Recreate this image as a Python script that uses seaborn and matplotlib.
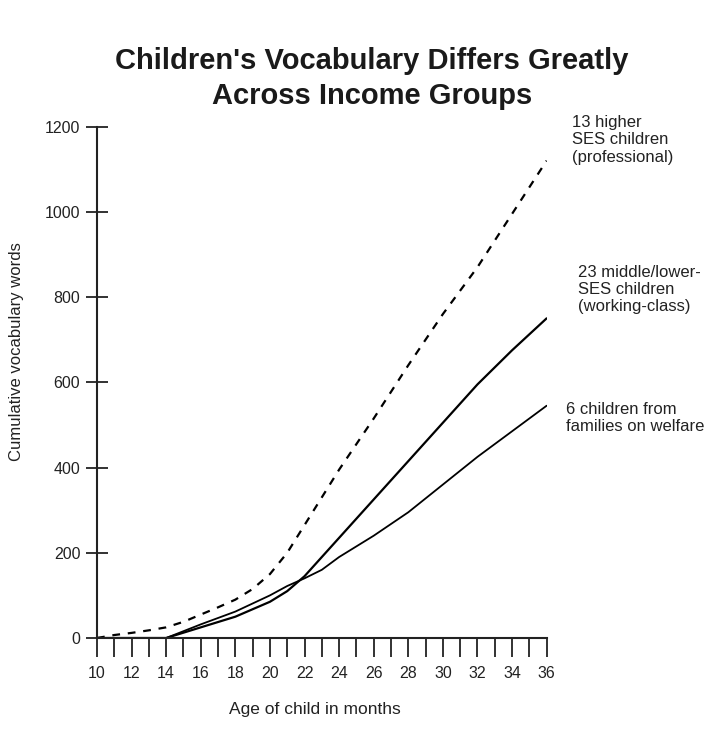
import pandas as pd
import seaborn as sns
import matplotlib.pyplot as plt

# Values (age in months -> cumulative words)
prof_age = [10, 11, 12, 13, 14, 15, 16, 17, 18, 19, 20, 21, 22, 24, 26, 28, 30, 32, 34, 36]
prof_words = [0, 7, 12, 18, 25, 38, 55, 72, 90, 115, 150, 200, 265, 395, 515, 640, 760, 870, 995, 1120]

work_age = [10, 14, 16, 18, 20, 21, 22, 24, 26, 28, 30, 32, 34, 36]
work_words = [0, 0, 25, 50, 85, 110, 145, 235, 325, 415, 505, 595, 675, 750]

welf_age = [10, 14, 16, 18, 20, 21, 22, 23, 24, 26, 28, 30, 32, 34, 36]
welf_words = [0, 0, 32, 62, 100, 122, 140, 160, 190, 240, 295, 360, 425, 485, 545]

x_ticks = list(range(10, 37))
x_labels = [str(t) if t % 2 == 0 else '' for t in x_ticks]
y_ticks = [0, 200, 400, 600, 800, 1000, 1200]

sns.set_style('white')
plt.rcParams['font.family'] = ['Liberation Sans', 'DejaVu Sans']

fig = plt.figure(figsize=(7.24, 7.38), dpi=100)
ax = fig.add_axes([0.134, 0.1355, 0.621, 0.693])

sns.lineplot(x=prof_age, y=prof_words, ax=ax, color='black', linewidth=1.6,
             linestyle=(0, (3.5, 3.5)))
sns.lineplot(x=work_age, y=work_words, ax=ax, color='black', linewidth=1.6)
sns.lineplot(x=welf_age, y=welf_words, ax=ax, color='black', linewidth=1.3)

ax.set_xlim(10, 36)
ax.set_ylim(0, 1200)
ax.set_xticks(x_ticks)
ax.set_xticklabels(x_labels)
ax.set_yticks(y_ticks)
ax.tick_params(axis='x', bottom=True, direction='out', length=14, width=1.3, labelsize=11.5,
               pad=6, colors='#222222')
ax.tick_params(axis='y', left=True, direction='inout', length=16, width=1.3, labelsize=11.5,
               pad=4, colors='#222222')
for side in ['top', 'right']:
    ax.spines[side].set_visible(False)
for side in ['left', 'bottom']:
    ax.spines[side].set_linewidth(1.5)
    ax.spines[side].set_color('#222222')

ax.set_xlabel('Age of child in months', fontsize=12.5, color='#222222')
ax.xaxis.set_label_coords(0.484, -0.125)
ax.set_ylabel('Cumulative vocabulary words', fontsize=12, color='#222222')
ax.yaxis.set_label_coords(-0.162, 0.56)

fig.text(0.514, 0.8935, "Children's Vocabulary Differs Greatly\nAcross Income Groups",
         ha='center', va='center', fontsize=21, fontweight='bold', linespacing=1.32,
         color='#1a1a1a')

note_style = dict(transform=ax.transAxes, ha='left', va='top', fontsize=12,
                  linespacing=1.2, color='#222222')
ax.text(1.056, 1.023, '13 higher\nSES children\n(professional)', **note_style)
ax.text(1.069, 0.73, '23 middle/lower-\nSES children\n(working-class)', **note_style)
ax.text(1.042, 0.462, '6 children from\nfamilies on welfare', **note_style)

fig.savefig('out.png', dpi=100)
